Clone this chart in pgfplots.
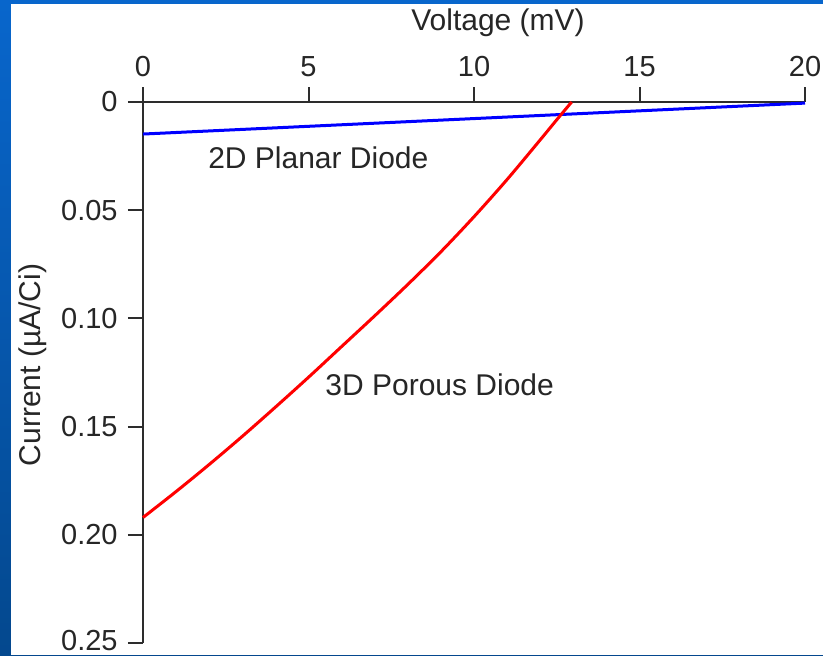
\documentclass[border=0pt]{standalone}
\usepackage{fontspec}
\setmainfont{Liberation Sans}
\usepackage{pgfplots}
\pgfplotsset{compat=1.18}
\definecolor{frameTop}{RGB}{8,102,204}
\definecolor{frameBot}{RGB}{4,72,142}
\definecolor{axisGray}{RGB}{45,45,45}

\begin{document}
\begin{tikzpicture}
\fontsize{15}{18}\selectfont
% page = 823x655 px at 0.5pt per px
\useasboundingbox (0,0) rectangle (411.5pt,327.5pt);
\shade[top color=frameTop, bottom color=frameBot] (0,0) rectangle (411.5pt,327.5pt);
\fill[white] (5.5pt,0) rectangle (411.5pt,325.5pt);

\begin{axis}[
    at={(71.5pt,6pt)}, anchor=south west,
    scale only axis, width=331pt, height=270.5pt,
    xmin=0, xmax=20, ymin=0, ymax=0.25,
    y dir=reverse,
    axis x line*=top, axis y line*=left,
    xtick={0,5,10,15,20},
    ytick={0,0.05,0.10,0.15,0.20,0.25},
    yticklabels={0,0.05,0.10,0.15,0.20,\raisebox{2.5pt}{0.25}},
    tick align=outside, major tick length=7.5pt,
    axis line style={axisGray, line width=1pt},
    tick style={axisGray, line width=1pt},
    every tick label/.append style={font=\fontsize{14.5}{17}\selectfont, text=black!85},
    /pgf/number format/assume math mode=true,
    clip=false,
]
\addplot[blue, line width=1.5pt] coordinates {(0,0.0148) (20,0.0005)};
\addplot[red, line width=1.5pt, smooth] coordinates {
    (0,0.1920) (1,0.1800) (2,0.1675) (3,0.1545) (4,0.1410) (5,0.1272)
    (6,0.1130) (7,0.0988) (8,0.0843) (9,0.0692) (10,0.0530) (11,0.0358)
    (12,0.0175) (12.5,0.0082) (12.95,0.0000)};
\node[anchor=west, inner sep=0pt, text=black!85] at (axis cs:1.96,0.0259) {2D Planar Diode};
\node[anchor=west, inner sep=0pt, text=black!85] at (axis cs:5.5,0.1308) {3D Porous Diode};
\end{axis}

\node[text=black!85] at (249pt,316pt) {Voltage (mV)};
\node[text=black!85, rotate=90] at (16.5pt,145pt) {Current (µA/Ci)};
\end{tikzpicture}
\end{document}
